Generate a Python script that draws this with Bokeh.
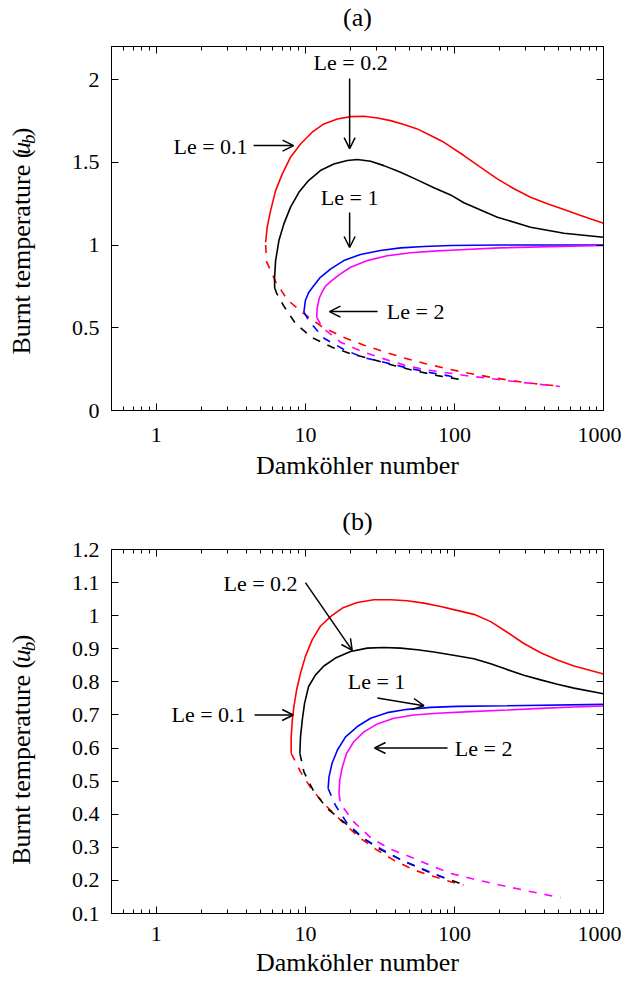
import numpy as np
from bokeh.plotting import figure
from bokeh.models import (Label, Arrow, OpenHead, FixedTicker, LogAxis, LinearAxis,
                          Range1d, CustomJSTickFormatter)
from bokeh.layouts import column, row
from bokeh.embed import file_html
from bokeh.resources import INLINE

# ---------------- data ----------------
X_MAJOR = [1, 10, 100, 1000]
X_MINOR = [0.5, 0.6, 0.7, 0.8, 0.9, 2, 3, 4, 5, 6, 7, 8, 9,
           20, 30, 40, 50, 60, 70, 80, 90, 200, 300, 400, 500, 600, 700, 800, 900]
YA_TICKS = [0, 0.5, 1, 1.5, 2]
YB_TICKS = [0.1, 0.2, 0.3, 0.4, 0.5, 0.6, 0.7, 0.8, 0.9, 1.0, 1.1, 1.2]

# Panel (a) - upper (stable) branches
a_le01_x = [5.41, 5.54, 5.84, 6.31, 7.0, 7.95, 9.27, 11.1, 13.3, 16.4, 20.1, 24.7, 30.4, 37.3, 45.8,
            56.3, 69.2, 85, 115.7, 150, 194, 251, 324, 420, 543, 703, 1000]
a_le01_y = [1.017, 1.108, 1.208, 1.329, 1.430, 1.531, 1.611, 1.682, 1.732, 1.762, 1.776, 1.778, 1.768,
            1.752, 1.728, 1.702, 1.662, 1.621, 1.541, 1.470, 1.400, 1.340, 1.289, 1.249, 1.215, 1.178, 1.132]
a_le02_x = [6.22, 6.21, 6.31, 6.64, 7.17, 7.95, 9.04, 10.5, 12.6, 15.5, 19.1, 22.3, 27.4, 33.6, 43.5,
            56.3, 72.8, 94.2, 115.7, 194, 324, 543, 1000]
a_le02_y = [0.74, 0.805, 0.906, 1.027, 1.128, 1.229, 1.319, 1.390, 1.450, 1.490, 1.511, 1.517, 1.506,
            1.480, 1.440, 1.394, 1.346, 1.303, 1.256, 1.168, 1.108, 1.071, 1.047]
a_le1_x = [9.77, 10.0, 10.5, 11.4, 12.6, 14.8, 18.1, 23.4, 31.9, 43.5, 62.4, 94.2, 200, 1000]
a_le1_y = [0.594, 0.665, 0.712, 0.755, 0.805, 0.856, 0.906, 0.943, 0.967, 0.983, 0.991, 0.997, 1.0, 1.0]
a_le2_x = [11.9, 12.0, 12.4, 13.0, 13.6, 14.8, 16.8, 20.1, 26.0, 35.4, 50.8, 76.7, 94.2, 200, 1000]
a_le2_y = [0.564, 0.62, 0.68, 0.72, 0.75, 0.78, 0.82, 0.866, 0.906, 0.935, 0.953, 0.965, 0.969, 0.983, 0.997]
# Panel (a) - lower (unstable) branches
a_le01_lx = [5.41, 5.49, 6.3, 7.55, 9.77, 13.0, 17.7, 24.7, 33.6, 45.8, 64, 89.5, 125, 175, 244, 341, 510]
a_le01_ly = [1.0, 0.9, 0.78, 0.67, 0.585, 0.505, 0.445, 0.395, 0.355, 0.318, 0.283, 0.252, 0.225, 0.201, 0.180, 0.163, 0.147]
a_le02_lx = [6.22, 6.4, 7.13, 8.59, 11.1, 15.1, 20.1, 27.4, 39.2, 53.4, 76.7, 110, 117]
a_le02_ly = [0.74, 0.71, 0.634, 0.525, 0.44, 0.382, 0.343, 0.312, 0.272, 0.242, 0.211, 0.187, 0.184]
a_le1_lx = [9.77, 10.8, 13.4, 18.0, 24.1, 33.6, 45.8, 65.7, 89.5, 102]
a_le1_ly = [0.594, 0.53, 0.435, 0.37, 0.322, 0.292, 0.262, 0.232, 0.211, 0.2]
a_le2_lx = [11.9, 13.0, 17.2, 24.7, 33.6, 47, 64, 91, 128, 175, 244, 345, 510]
a_le2_ly = [0.564, 0.50, 0.413, 0.352, 0.312, 0.272, 0.246, 0.227, 0.207, 0.193, 0.177, 0.161, 0.145]

# Panel (b) - upper branches
b_le01_x = [8.03, 8.03, 8.17, 8.37, 8.73, 9.27, 10.0, 11.1, 12.6, 14.8, 17.7, 22.3, 28.8, 37.3, 48.3,
            62.4, 80.7, 104, 135, 175, 226, 292, 379, 490, 634, 1000]
b_le01_y = [0.584, 0.634, 0.685, 0.725, 0.776, 0.826, 0.877, 0.927, 0.968, 0.998, 1.023, 1.040, 1.048,
            1.048, 1.045, 1.038, 1.028, 1.016, 1.004, 0.982, 0.950, 0.916, 0.888, 0.866, 0.848, 0.824]
b_le02_x = [9.18, 9.27, 9.53, 9.87, 10.5, 11.7, 13.3, 15.9, 20.1, 26.0, 33.6, 43.5, 56.3, 72.8, 94.2,
            135, 175, 226, 292, 379, 490, 634, 1000]
b_le02_y = [0.584, 0.634, 0.685, 0.735, 0.786, 0.821, 0.848, 0.872, 0.892, 0.902, 0.904, 0.902, 0.897,
            0.890, 0.882, 0.870, 0.855, 0.837, 0.820, 0.806, 0.793, 0.781, 0.764]
b_le1_x = [14.2, 14.4, 15.1, 16.4, 18.6, 22.3, 27.4, 35.4, 48.3, 69.2, 104, 226, 1000]
b_le1_y = [0.478, 0.513, 0.554, 0.594, 0.634, 0.665, 0.690, 0.707, 0.717, 0.723, 0.726, 0.728, 0.732]
b_le2_x = [16.8, 17.0, 17.7, 18.9, 21.1, 24.7, 30.4, 39.2, 53.4, 76.7, 128, 226, 379, 634, 1000]
b_le2_y = [0.463, 0.503, 0.543, 0.584, 0.619, 0.649, 0.673, 0.690, 0.700, 0.705, 0.710, 0.715, 0.720, 0.724, 0.727]
# Panel (b) - lower branches
b_le01_lx = [8.03, 9.28, 11.1, 14.0, 17.7, 22.8, 30.4, 40.3, 54.9, 74.7, 104, 115]
b_le01_ly = [0.584, 0.528, 0.473, 0.422, 0.377, 0.331, 0.291, 0.258, 0.23, 0.21, 0.19, 0.186]
b_le02_lx = [9.18, 9.77, 11.4, 14.0, 18.6, 24.1, 31.9, 43.5, 59.3, 80.7, 110, 116]
b_le02_ly = [0.584, 0.528, 0.468, 0.417, 0.372, 0.329, 0.293, 0.263, 0.235, 0.212, 0.19, 0.188]
b_le1_lx = [14.2, 15.9, 19.1, 24.7, 32.8, 44.7, 60.8, 82.8, 87]
b_le1_ly = [0.478, 0.427, 0.372, 0.326, 0.293, 0.26, 0.235, 0.21, 0.205]
b_le2_lx = [16.8, 17.2, 21.1, 27.4, 37.3, 50.8, 69.2, 94.2, 132, 184, 310, 515]
b_le2_ly = [0.463, 0.432, 0.377, 0.329, 0.294, 0.271, 0.245, 0.221, 0.205, 0.19, 0.168, 0.148]

COLORS = {"0.1": "#ff0000", "0.2": "#000000", "1": "#0000ff", "2": "#ff00ff"}

# ---------------- style ----------------
FONT = "Liberation Serif"
FS = "22px"      # tick labels, annotations
FL = "26px"      # axis labels, panel titles
LAB_W = 40       # width of the strip that carries the y-axis label
MAIN_W = 581
FULL_W = LAB_W + MAIN_W

fmt = CustomJSTickFormatter(code="return String(Number(tick.toFixed(3)));")


def blank_canvas(width, height):
    s = figure(width=width, height=height, x_range=Range1d(0, width), y_range=Range1d(0, height),
               output_backend="svg", toolbar_location=None,
               x_axis_location=None, y_axis_location=None,
               min_border=0, outline_line_color=None)
    s.xgrid.visible = False
    s.ygrid.visible = False
    return s


def title_strip(height, text, cy):
    s = blank_canvas(FULL_W, height)
    s.add_layout(Label(x=357, y=cy, text=text, text_font=FONT, text_font_size=FL,
                       text_align="center", text_baseline="middle", text_color="black"))
    return s


def style_axis(ax, ticker, show_labels=True):
    ax.ticker = ticker
    ax.formatter = fmt
    ax.axis_line_color = "black"
    ax.axis_line_width = 1
    ax.major_tick_line_color = "black"
    ax.minor_tick_line_color = "black"
    ax.major_tick_in = 7
    ax.major_tick_out = 0
    ax.minor_tick_in = 4
    ax.minor_tick_out = 0
    ax.major_label_text_font = FONT
    ax.axis_label_text_font = FONT
    ax.axis_label_text_font_style = "normal"
    ax.axis_label_text_font_size = FL
    ax.axis_label_text_color = "black"
    if show_labels:
        ax.major_label_text_font_size = FS
        ax.major_label_text_color = "black"
    else:
        # mirrored tick marks only: labels are not drawn at all
        ax.major_label_text_font_size = "1px"
        ax.major_label_text_color = None
        ax.major_label_standoff = 0


def ylabel_strip(height, base_from_bottom):
    """Narrow canvas holding the rotated y-axis label, composed of styled pieces."""
    s = blank_canvas(LAB_W, height)
    # text, style, font px, centre x, advance width px, centre correction
    pieces = [("Burnt temperature (", "normal", 26, 21, 205.0, -21.0),
              ("u", "italic", 26, 21, 13.0, 0.0),
              ("b", "italic", 19, 28, 9.5, 0.0),
              (")", "normal", 26, 21, 8.7, 0.0)]
    off = 0.0
    for (t, style, size, cx, wpx, corr) in pieces:
        s.add_layout(Label(x=cx, y=base_from_bottom + off + wpx / 2.0 + corr, text=t,
                           angle=np.pi / 2, text_font=FONT, text_font_style=style,
                           text_font_size=f"{size}px", text_align="center",
                           text_baseline="middle", text_color="black"))
        off += wpx
    return s


def make_panel(height, ylo, yhi, yticks, border_top, border_bottom,
               tick_standoff, label_standoff, upper, lower, notes, label_base):
    p = figure(width=MAIN_W, height=height, x_axis_type="log",
               x_range=Range1d(0.5, 1000), y_range=Range1d(ylo, yhi),
               output_backend="svg", toolbar_location=None,
               min_border_left=71, min_border_right=18,
               min_border_top=border_top, min_border_bottom=border_bottom)
    p.xgrid.visible = False
    p.ygrid.visible = False
    p.outline_line_color = "black"
    p.outline_line_width = 1

    xt = FixedTicker(ticks=X_MAJOR, minor_ticks=X_MINOR)
    yt = FixedTicker(ticks=yticks, minor_ticks=[])
    style_axis(p.xaxis[0], xt)
    p.xaxis[0].major_label_standoff = tick_standoff
    p.xaxis[0].axis_label = "Damköhler number"
    p.xaxis[0].axis_label_standoff = label_standoff
    style_axis(p.yaxis[0], yt)
    p.yaxis[0].major_label_standoff = 12
    p.yaxis[0].axis_label = None

    top = LogAxis()
    style_axis(top, xt, show_labels=False)
    p.add_layout(top, "above")
    right = LinearAxis()
    style_axis(right, yt, show_labels=False)
    p.add_layout(right, "right")

    for key, (xs, ys) in lower.items():
        p.line(xs, ys, line_color=COLORS[key], line_width=1.6, line_dash="8 8")
    for key, (xs, ys) in upper.items():
        p.line(xs, ys, line_color=COLORS[key], line_width=1.6)

    for (txt, tx, ty, ax0, ay0, ax1, ay1) in notes:
        p.add_layout(Label(x=tx, y=ty, text=txt, text_font=FONT, text_font_size=FS,
                           text_align="center", text_baseline="middle", text_color="black"))
        p.add_layout(Arrow(end=OpenHead(size=11, line_width=1.5, line_color="black"),
                           x_start=ax0, y_start=ay0, x_end=ax1, y_end=ay1,
                           line_width=1.5, line_color="black"))
    return row(ylabel_strip(height, label_base), p)


ta = title_strip(34, "(a)", 17)
pa = make_panel(456, 0, 2.2, YA_TICKS, 12, 80, 17, 6,
                upper={"0.1": (a_le01_x, a_le01_y), "0.2": (a_le02_x, a_le02_y),
                       "1": (a_le1_x, a_le1_y), "2": (a_le2_x, a_le2_y)},
                lower={"0.1": (a_le01_lx, a_le01_ly), "0.2": (a_le02_lx, a_le02_ly),
                       "1": (a_le1_lx, a_le1_ly), "2": (a_le2_lx, a_le2_ly)},
                notes=[("Le = 0.2", 20.1, 2.103, 19.8, 2.006, 19.8, 1.583),
                       ("Le = 0.1", 2.31, 1.595, 4.49, 1.601, 8.33, 1.601),
                       ("Le = 1", 19.8, 1.287, 19.8, 1.196, 19.8, 0.985),
                       ("Le = 2", 54.9, 0.598, 30.5, 0.598, 14.5, 0.598)],
                label_base=117)

tb = title_strip(46, "(b)", 15.5)
pb = make_panel(444, 0.1, 1.2, YB_TICKS, 13, 67, 13, 4,
                upper={"0.1": (b_le01_x, b_le01_y), "0.2": (b_le02_x, b_le02_y),
                       "1": (b_le1_x, b_le1_y), "2": (b_le2_x, b_le2_y)},
                lower={"0.1": (b_le01_lx, b_le01_ly), "0.2": (b_le02_lx, b_le02_ly),
                       "1": (b_le1_lx, b_le1_ly), "2": (b_le2_lx, b_le2_ly)},
                notes=[("Le = 0.2", 5.0, 1.097, 10.0, 1.10, 20.6, 0.895),
                       ("Le = 0.1", 2.24, 0.70, 4.56, 0.70, 8.28, 0.70),
                       ("Le = 1", 30.0, 0.80, 30.4, 0.751, 62.4, 0.728),
                       ("Le = 2", 157, 0.60, 89.9, 0.60, 29.1, 0.60)],
                label_base=103)

layout = column(ta, pa, tb, pb)
open("out.html", "w").write(file_html(layout, INLINE))
